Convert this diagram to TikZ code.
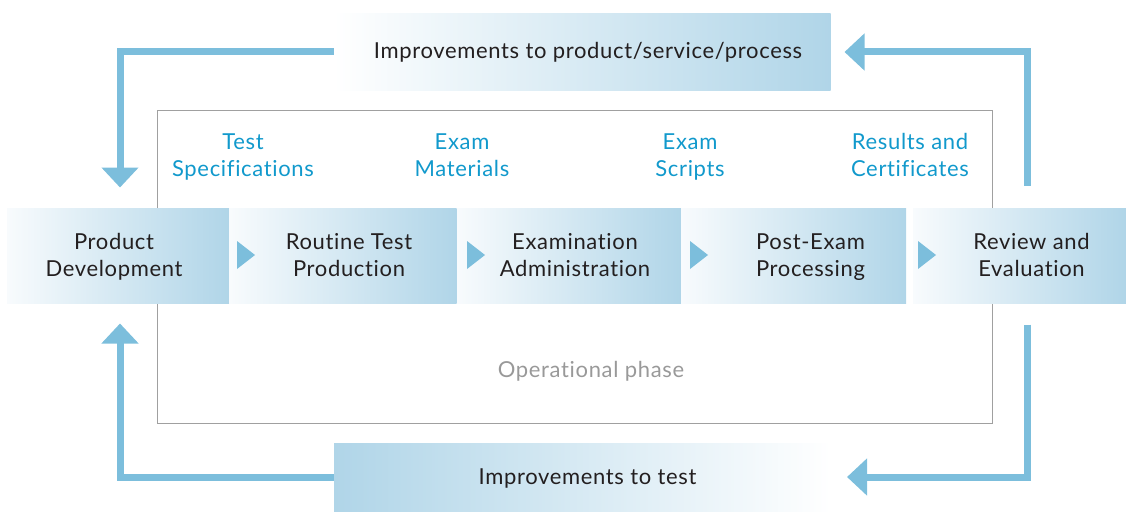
\documentclass[tikz,border=0pt]{standalone}
\usepackage{fontspec}
\setmainfont{Lato}[LetterSpace=3,Ligatures=NoCommon]
\usetikzlibrary{arrows.meta}
\definecolor{boxblue}{HTML}{B0D5E8}
\definecolor{boxwhite}{HTML}{F8FBFD}
\definecolor{arrowblue}{HTML}{7CBEDC}
\definecolor{labelblue}{HTML}{1199CC}
\definecolor{textdark}{HTML}{231F20}
\definecolor{framegray}{HTML}{A0A0A0}
\definecolor{phasegray}{HTML}{999999}
\newcommand{\topstrut}{\rule{0pt}{23pt}}
\begin{document}
\begin{tikzpicture}[x=1pt,y=-1pt,
  stagebox/.style={shading=axis,left color=boxwhite,right color=boxblue,
    minimum height=95pt,inner sep=0pt,outer sep=0pt,align=center,
    text=textdark,font=\fontsize{22}{27}\selectfont},
  improvebox/.style={minimum height=77pt,minimum width=497pt,inner sep=0pt,outer sep=0pt,
    text=textdark,font=\fontsize{22}{27}\selectfont},
  outlabel/.style={text=labelblue,align=center,font=\fontsize{22}{27}\selectfont},
  flow/.style={draw=arrowblue,line width=7pt,
    -{Triangle[width=36pt,length=20pt]}},
  marker/.style={fill=arrowblue}]
\useasboundingbox (0,0) rectangle (1126,511);
% operational frame
\draw[framegray,line width=0.9pt] (157,110) rectangle (992,423);
\node[text=phasegray,font=\fontsize{22}{27}\selectfont] (phase) at (591,371) {Operational phase};
% improvement boxes
\node[improvebox,shading=axis,left color=white,right color=boxblue] (topbox) at (582,52) {\hspace*{12pt}Improvements to product/service/process};
\node[improvebox,minimum height=70pt,shading=axis,left color=boxblue,right color=white] (botbox) at (582.5,478.5) {\hspace*{10pt}Improvements to test};
% stage boxes
\node[stagebox,minimum width=222pt] (pd) at (118,256) {\hspace*{-8pt}\topstrut Product\\\hspace*{-8pt}Development\strut};
\node[stagebox,minimum width=227pt] (rtp) at (343,256) {\hspace*{12pt}\topstrut Routine Test\\\hspace*{12pt}Production\strut};
\node[stagebox,minimum width=224pt] (ea) at (569,256) {\hspace*{12pt}\topstrut Examination\\\hspace*{12pt}Administration\strut};
\node[stagebox,minimum width=225pt] (pep) at (793.5,256) {\hspace*{34pt}\topstrut Post-Exam\\\hspace*{34pt}Processing\strut};
\node[stagebox,minimum width=213pt] (re) at (1019.5,256) {\hspace*{24pt}\topstrut Review and\\\hspace*{24pt}Evaluation\strut};
% output labels
\node[outlabel] (ts) at (243,157.6) {\strut Test\\Specifications\strut};
\node[outlabel] (em) at (462,157.6) {\strut Exam\\Materials\strut};
\node[outlabel] (es) at (690,157.6) {\strut Exam\\Scripts\strut};
\node[outlabel] (rc) at (910,157.6) {\strut Results and\\Certificates\strut};
% step markers
\fill[marker] (237,241) -- (255,255) -- (237,269) -- cycle;
\fill[marker] (467,241) -- (485,255) -- (467,269) -- cycle;
\fill[marker] (690,241) -- (708,255) -- (690,269) -- cycle;
\fill[marker] (918,241) -- (936,255) -- (918,269) -- cycle;
% feedback connectors
\draw[flow,shorten >=21pt] (topbox.west) -| ([xshift=2pt]pd.north);
\draw[flow,shorten <=23pt,shorten >=14pt] ([xshift=8pt]re.north) |- (topbox.east);
\draw[flow,shorten <=21pt,shorten >=16pt] ([xshift=8pt]re.south) |- ([yshift=1.5pt]botbox.east);
\draw[flow,shorten >=20pt] ([yshift=1.5pt]botbox.west) -| ([xshift=2pt]pd.south);
\end{tikzpicture}
\end{document}
